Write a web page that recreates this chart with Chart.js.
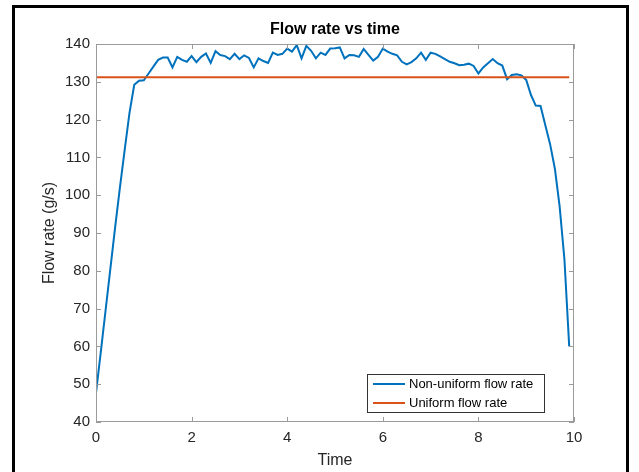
<!DOCTYPE html>
<html>
<head>
<meta charset="utf-8">
<script src="https://cdn.jsdelivr.net/npm/chart.js@4.4.1/dist/chart.umd.min.js"></script>
<style>
    html, body { margin: 0; padding: 0; background: #fff; }
</style>
</head>
<body>
<canvas id="flowChart" width="639" height="472"></canvas>
<script>
// Zaman ekseni (s)
const zaman = [
    0.0, 0.1, 0.2, 0.3, 0.4, 0.5, 0.6, 0.7, 0.8, 0.9,
    1.0, 1.1, 1.2, 1.3, 1.4, 1.5, 1.6, 1.7, 1.8, 1.9,
    2.0, 2.1, 2.2, 2.3, 2.4, 2.5, 2.6, 2.7, 2.8, 2.9,
    3.0, 3.1, 3.2, 3.3, 3.4, 3.5, 3.6, 3.7, 3.8, 3.9,
    4.0, 4.1, 4.2, 4.3, 4.4, 4.5, 4.6, 4.7, 4.8, 4.9,
    5.0, 5.1, 5.2, 5.3, 5.4, 5.5, 5.6, 5.7, 5.8, 5.9,
    6.0, 6.1, 6.2, 6.3, 6.4, 6.5, 6.6, 6.7, 6.8, 6.9,
    7.0, 7.1, 7.2, 7.3, 7.4, 7.5, 7.6, 7.7, 7.8, 7.9,
    8.0, 8.1, 8.2, 8.3, 8.4, 8.5, 8.6, 8.7, 8.8, 8.9,
    9.0, 9.1, 9.2, 9.3, 9.4, 9.5, 9.6, 9.7, 9.8, 9.9
];

// Değişken debi (g/s)
const degiskenDebi = [
    47.7, 58.5, 69.5, 80.5, 91.5, 102.0, 112.0, 121.7, 129.2, 130.3,
    130.4, 132.2, 134.0, 135.8, 136.4, 136.4, 133.8, 136.6, 135.8, 135.3,
    136.8, 135.2, 136.6, 137.5, 135.0, 138.1, 137.1, 136.8, 136.0, 137.4,
    136.0, 137.0, 136.3, 133.8, 136.2, 135.5, 135.0, 137.7, 137.1, 137.4,
    138.8, 138.0, 139.7, 136.2, 139.5, 138.2, 136.2, 137.7, 137.1, 138.8,
    138.9, 139.1, 136.2, 137.1, 137.0, 136.6, 138.7, 137.1, 135.6, 136.6,
    138.8, 138.0, 137.4, 137.0, 135.3, 134.6, 135.2, 136.2, 137.7, 135.8,
    137.7, 137.4, 136.7, 136.0, 135.3, 134.9, 134.4, 134.5, 134.8, 134.2,
    132.2, 133.8, 134.9, 136.0, 134.9, 134.3, 130.7, 131.8, 132.0, 131.7,
    130.5, 126.5, 123.7, 123.6, 118.5, 113.5, 107.0, 97.0, 83.0, 60.0
];

// Sabit debi
const sabitZaman = [0, 9.9];
const sabitDebi = [131.2, 131.2];

// Eksen etiketleri
const xTicks = [0, 2, 4, 6, 8, 10];
const yTicks = [40, 50, 60, 70, 80, 90, 100, 110, 120, 130, 140];

const FONT = "'Liberation Sans', Arial, Helvetica, sans-serif";

// MATLAB görünümü: çerçeve, içe dönük tikler, başlık ve lejant
const matlabStili = {
    id: 'matlabStili',
    beforeDraw(chart) {
        const c = chart.ctx;
        c.save();
        c.fillStyle = '#fff';
        c.fillRect(0, 0, chart.width, chart.height);
        c.fillStyle = '#000';
        c.fillRect(12, 5, 3, chart.height);
        c.fillRect(12, 5, 617, 3);
        c.fillRect(626, 5, 3, chart.height);
        c.restore();
    },
    afterDatasetsDraw(chart) {
        const c = chart.ctx;
        const a = chart.chartArea;
        const x = chart.scales.x;
        const y = chart.scales.y;
        c.save();

        // eksen kutusu
        c.strokeStyle = '#9b9b9b';
        c.lineWidth = 1;
        c.strokeRect(a.left + 0.5, a.top + 0.5, a.right - a.left - 1, a.bottom - a.top - 1);

        // tikler
        c.beginPath();
        xTicks.forEach(v => {
            const px = Math.round(x.getPixelForValue(v)) + 0.5;
            c.moveTo(px, a.bottom); c.lineTo(px, a.bottom - 5);
            c.moveTo(px, a.top); c.lineTo(px, a.top + 5);
        });
        yTicks.forEach(v => {
            const py = Math.round(y.getPixelForValue(v)) + 0.5;
            c.moveTo(a.left, py); c.lineTo(a.left + 5, py);
            c.moveTo(a.right, py); c.lineTo(a.right - 5, py);
        });
        c.stroke();

        // başlık
        c.fillStyle = '#000';
        c.font = 'bold 16px ' + FONT;
        c.textAlign = 'center';
        c.textBaseline = 'middle';
        c.fillText('Flow rate vs time', (a.left + a.right) / 2, 30);

        // lejant
        const lx = 367, ly = 374, lw = 177, lh = 38;
        c.fillStyle = '#fff';
        c.fillRect(lx, ly, lw, lh);
        c.strokeStyle = '#333';
        c.lineWidth = 1;
        c.strokeRect(lx + 0.5, ly + 0.5, lw, lh);
        c.font = '13px ' + FONT;
        c.textAlign = 'left';
        chart.data.datasets.forEach((ds, i) => {
            const yy = ly + 10 + i * 19;
            c.strokeStyle = ds.borderColor;
            c.lineWidth = 2;
            c.beginPath();
            c.moveTo(lx + 6, yy); c.lineTo(lx + 38, yy);
            c.stroke();
            c.fillStyle = '#000';
            c.fillText(ds.label, lx + 42, yy);
        });
        c.restore();
    }
};

const ctx = document.getElementById('flowChart').getContext('2d');

const chart = new Chart(ctx, {
    type: 'line',
    data: {
        datasets: [
            {
                label: 'Non-uniform flow rate',
                data: zaman.map((t, i) => ({ x: t, y: degiskenDebi[i] })),
                borderColor: '#0072BD',
                borderWidth: 2,
                pointRadius: 0,
                fill: false,
                order: 1
            },
            {
                label: 'Uniform flow rate',
                data: sabitZaman.map((t, i) => ({ x: t, y: sabitDebi[i] })),
                borderColor: '#D95319',
                borderWidth: 2,
                pointRadius: 0,
                fill: false,
                order: 0
            }
        ]
    },
    options: {
        responsive: false,
        animation: false,
        devicePixelRatio: 1,
        layout: {
            padding: { top: 44, right: 65, left: 0, bottom: 0 }
        },
        plugins: {
            legend: { display: false },
            title: { display: false },
            tooltip: { enabled: false }
        },
        scales: {
            x: {
                type: 'linear',
                min: 0,
                max: 10,
                afterBuildTicks: s => { s.ticks = xTicks.map(v => ({ value: v })); },
                afterFit: s => { s.height = 50; },
                grid: { display: false, drawTicks: false },
                border: { display: false },
                ticks: {
                    padding: 7,
                    maxRotation: 0,
                    color: '#262626',
                    font: { family: FONT, size: 15 }
                },
                title: {
                    display: true,
                    text: 'Time',
                    color: '#262626',
                    font: { family: FONT, size: 16 },
                    padding: { top: 0, bottom: 2 }
                }
            },
            y: {
                min: 40,
                max: 140,
                afterBuildTicks: s => { s.ticks = yTicks.map(v => ({ value: v })); },
                afterFit: s => { s.width = 96; },
                grid: { display: false, drawTicks: false },
                border: { display: false },
                ticks: {
                    padding: 6,
                    color: '#262626',
                    font: { family: FONT, size: 15 }
                },
                title: {
                    display: true,
                    text: 'Flow rate (g/s)',
                    color: '#262626',
                    font: { family: FONT, size: 16 },
                    padding: 40
                }
            }
        }
    },
    plugins: [matlabStili]
});
</script>
</body>
</html>
